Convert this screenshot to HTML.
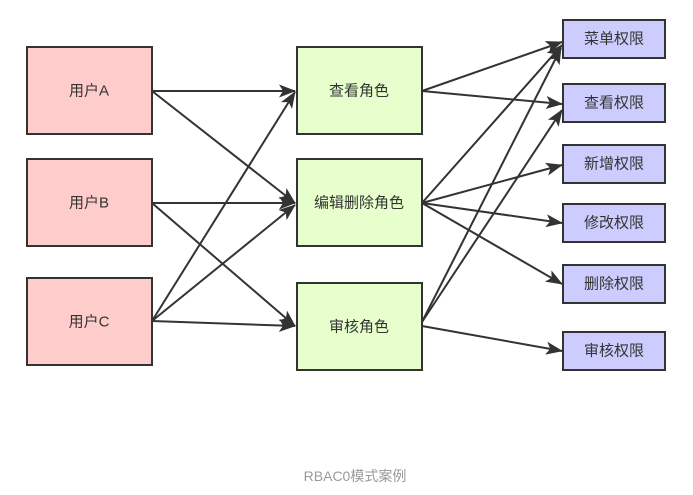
<!DOCTYPE html>
<html><head><meta charset="utf-8"><style>
html,body{margin:0;padding:0;background:#fff;width:693px;height:495px;overflow:hidden}
svg text{font-family:"Liberation Sans","Noto Sans CJK SC",sans-serif;font-size:15px;fill:#333;text-anchor:middle;dominant-baseline:central}
</style></head><body>
<svg width="693" height="495" viewBox="0 0 693 495" xmlns="http://www.w3.org/2000/svg">
<defs><marker id="a" markerWidth="17" markerHeight="13" refX="16" refY="6.5" orient="auto" markerUnits="userSpaceOnUse"><path d="M0,0 L17,6.5 L0,13 L4,6.5 z" fill="#333"/></marker></defs>
<g fill="#ffcccc" stroke="#333" stroke-width="2">
<rect x="27" y="47" width="125" height="87"/><rect x="27" y="159" width="125" height="87"/><rect x="27" y="278" width="125" height="87"/></g>
<g fill="#e6ffcc" stroke="#333" stroke-width="2">
<rect x="297" y="47" width="125" height="87"/><rect x="297" y="159" width="125" height="87"/><rect x="297" y="283" width="125" height="87"/></g>
<g fill="#ccccff" stroke="#333" stroke-width="2">
<rect x="563" y="20" width="102" height="38"/><rect x="563" y="84" width="102" height="38"/><rect x="563" y="145" width="102" height="38"/><rect x="563" y="204" width="102" height="38"/><rect x="563" y="265" width="102" height="38"/><rect x="563" y="332" width="102" height="38"/></g>
<g stroke="#333" stroke-width="2" fill="none" marker-end="url(#a)">
<line x1="152" y1="91" x2="295" y2="91"/><line x1="152" y1="91" x2="295" y2="203"/>
<line x1="152" y1="203" x2="295" y2="203"/><line x1="152" y1="203" x2="295" y2="326"/>
<line x1="152" y1="321" x2="295" y2="92"/><line x1="152" y1="321" x2="295" y2="205"/><line x1="152" y1="321" x2="295" y2="326"/>
<line x1="422" y1="91" x2="562" y2="42"/><line x1="422" y1="91" x2="562" y2="104"/>
<line x1="422" y1="203" x2="562" y2="45"/><line x1="422" y1="203" x2="562" y2="165"/><line x1="422" y1="203" x2="562" y2="223"/><line x1="422" y1="203" x2="562" y2="284"/>
<line x1="422" y1="322" x2="561" y2="48"/><line x1="422" y1="322" x2="562" y2="110"/><line x1="422" y1="326" x2="562" y2="351"/>
</g>
<text x="89" y="91">用户A</text><text x="89" y="203">用户B</text><text x="89" y="322">用户C</text>
<text x="359" y="91">查看角色</text><text x="359" y="203">编辑删除角色</text><text x="359" y="327">审核角色</text>
<text x="614" y="39">菜单权限</text><text x="614" y="103">查看权限</text><text x="614" y="164">新增权限</text><text x="614" y="223">修改权限</text><text x="614" y="284">删除权限</text><text x="614" y="351">审核权限</text>
<text x="355" y="476" style="font-size:14px;fill:#999">RBAC0模式案例</text>
</svg>
</body></html>
